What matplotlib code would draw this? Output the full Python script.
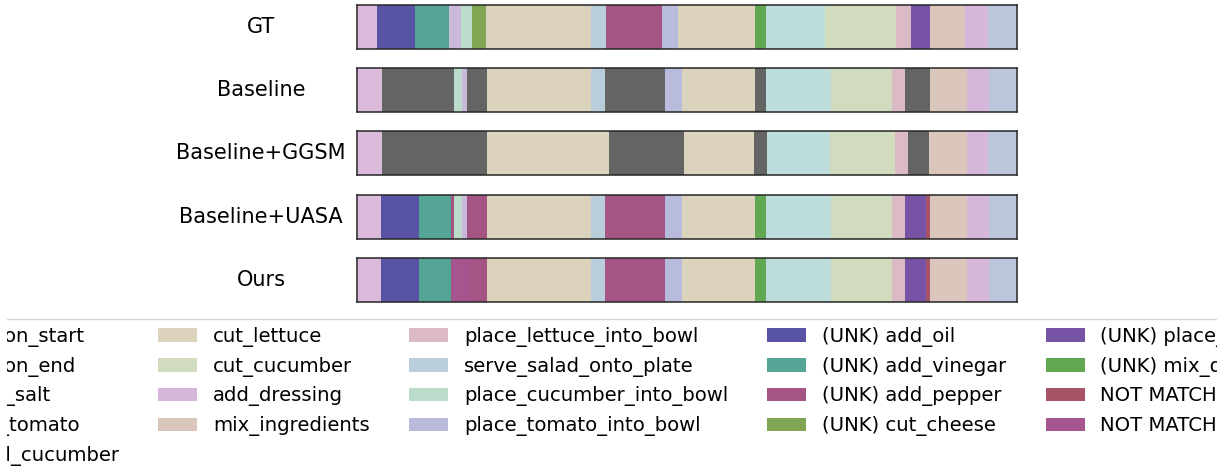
import numpy as np
import matplotlib
matplotlib.use('Agg')
import matplotlib.pyplot as plt
from matplotlib.patches import Patch, Rectangle

# class names / colours (legend order, column-major)
classes = ["action_start", "action_end", "add_salt", "cut_tomato", "peel_cucumber",
           "cut_lettuce", "cut_cucumber", "add_dressing", "mix_ingredients",
           "place_lettuce_into_bowl", "serve_salad_onto_plate", "place_cucumber_into_bowl", "place_tomato_into_bowl",
           "(UNK) add_oil", "(UNK) add_vinegar", "(UNK) add_pepper", "(UNK) cut_cheese",
           "(UNK) place_cheese_into_bowl", "(UNK) mix_dressing", "NOT MATCH (add_oil)", "NOT MATCH (add_pepper)"]
class_colors = ["#dcbadb", "#bbc5dc", "#cbb9dc", "#bddcdc", "#c6dcbb",
                "#dbd3bb", "#d1dbbd", "#d7b7d9", "#dbc6bb",
                "#dbb9c5", "#b9cddb", "#bcdccb", "#b9bbdc",
                "#5953a6", "#55a597", "#a45583", "#80a653",
                "#7753a6", "#62a853", "#a85468", "#a7558f"]
unk_color = "#646464"

rows = ["GT", "Baseline", "Baseline+GGSM", "Baseline+UASA", "Ours"]

# segment labels (index into classes, -1 = unknown) and segment end frames
gt_labels = [0, 13, 14, 2, 11, 16, 5, 10, 15, 12, 5, 18, 3, 6, 9, 17, 8, 7, 1]
gt_ends = [20, 58, 92, 104, 115, 129, 234, 249, 305, 321, 398, 409, 468, 539, 554, 573, 608, 631, 660]

base_labels = [0, -1, 11, 2, -1, 5, 10, -1, 12, 5, -1, 3, 6, 9, -1, 8, 7, 1]
base_ends = [25, 97, 105, 110, 130, 234, 248, 308, 325, 398, 409, 474, 535, 548, 573, 610, 632, 660]

ggsm_labels = [0, -1, 5, -1, 5, -1, 3, 6, 9, -1, 8, 7, 1]
ggsm_ends = [25, 130, 252, 327, 397, 410, 473, 538, 551, 572, 610, 631, 660]

uasa_labels = [0, 13, 14, 15, 11, 2, 15, 5, 10, 15, 12, 5, 18, 3, 6, 9, 17, 19, 8, 7, 1]
uasa_ends = [24, 62, 94, 97, 105, 110, 130, 234, 248, 308, 325, 398, 409, 474, 535, 548, 569, 573, 610, 632, 660]

ours_labels = [0, 13, 14, 20, 15, 5, 10, 15, 12, 5, 18, 3, 6, 9, 17, 19, 8, 7, 1]
ours_ends = [24, 62, 94, 113, 130, 234, 248, 308, 325, 398, 409, 474, 535, 548, 569, 573, 610, 632, 660]

all_labels = [gt_labels, base_labels, ggsm_labels, uasa_labels, ours_labels]
all_ends = [gt_ends, base_ends, ggsm_ends, uasa_ends, ours_ends]
n_frames = 660

W, H = 1228, 470
fig = plt.figure(figsize=(W / 100, H / 100), dpi=100)

for i, name in enumerate(rows):
    top = 5 + 63.2 * i
    ax = fig.add_axes([357 / W, 1 - (top + 44) / H, 660 / W, 44 / H])
    ends = np.array(all_ends[i])
    starts = np.concatenate([[0], ends[:-1]])
    cols = [class_colors[k] if k >= 0 else unk_color for k in all_labels[i]]
    ax.barh(0, ends - starts, left=starts, height=1, color=cols, linewidth=0)
    ax.set_xlim(0, n_frames)
    ax.set_ylim(-0.5, 0.5)
    ax.set_xticks([])
    ax.set_yticks([])
    for s in ax.spines.values():
        s.set_color('#262626')
        s.set_linewidth(1.1)
    ax.text(-0.1455, 0.5, name, transform=ax.transAxes, ha='center', va='center', fontsize=15)

handles = [Patch(facecolor=c, edgecolor='none') for c in class_colors]
fig.legend(handles, classes, ncol=5, loc='upper left', fontsize=14.1,
           bbox_to_anchor=(-93.5 / W, 1 - 319 / H), borderaxespad=0)

# the original picture is cut off at both sides
fig.add_artist(Rectangle((1216.5 / W, 0), 1, 1, transform=fig.transFigure,
                         facecolor='white', edgecolor='none', zorder=20))
fig.add_artist(Rectangle((0, 0), 7 / W, 1, transform=fig.transFigure,
                         facecolor='white', edgecolor='none', zorder=20))

fig.savefig('out.png', dpi=100)
